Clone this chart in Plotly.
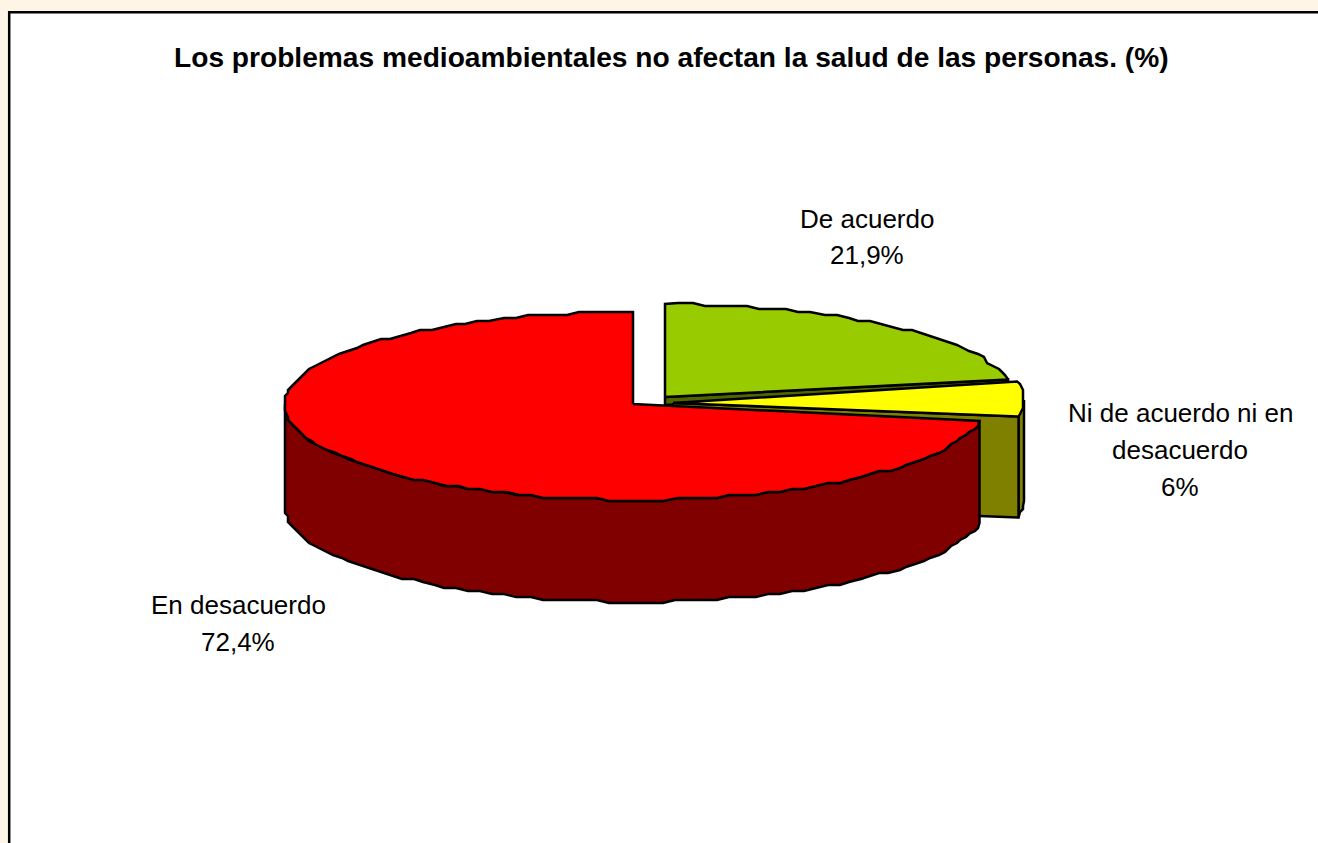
import numpy as np
import plotly.graph_objects as go

# --- data ---
categories = ["De acuerdo", "Ni de acuerdo ni en desacuerdo", "En desacuerdo"]
values = [21.9, 6, 72.4]
title = "Los problemas medioambientales no afectan la salud de las personas. (%)"

top_colors = ["#99CC00", "#FFFF00", "#FF0000"]
side_colors = ["#4D6600", "#808000", "#800000"]

label_lines = [
    ["De acuerdo", "21,9%"],
    ["Ni de acuerdo ni en", "desacuerdo", "6%"],
    ["En desacuerdo", "72,4%"],
]

# --- geometry of the projected pie (layout, not data) ---
W, H = 1318, 843
GRID_X, GRID_Y = 3.0, 3.0
LINE = 2.5
cfg = [
    dict(cx=665, cy=398, rxl=350, rxr=350, ryu=94, ryd=94, ax=665, ay=397, depth=8),
    dict(cx=674, cy=400, rxl=350, rxr=350, ryu=94, ryd=94, ax=673, ay=403, depth=101),
    dict(cx=633, cy=404, rxl=348, rxr=352, ryu=92, ryd=96, ax=633, ay=404, depth=102),
]
label_pos = [(867, [219, 255]), (1180, [413, 450, 487]), (238, [605, 642])]

total = sum(values)
edges = np.concatenate([[0], np.cumsum(values)]) / total * 360


def rim(c, t):
    s, k = np.sin(t), np.cos(t)
    x = c["cx"] + np.where(s > 0, c["rxr"], c["rxl"]) * s
    y = c["cy"] - np.where(k > 0, c["ryu"], c["ryd"]) * k
    return x, y


def arc(c, a0, a1, dy=0.0, step=2.2):
    """Rim points between clockwise-from-top angles; snapped to a coarse grid like the source raster."""
    n = max(2, int(abs(a1 - a0) / step) + 1)
    t = np.radians(np.linspace(a0, a1, n))
    x, y = rim(c, t)
    xs = np.round(x / GRID_X) * GRID_X
    ys = np.round(y / GRID_Y) * GRID_Y
    xs[0], ys[0], xs[-1], ys[-1] = x[0], y[0], x[-1], y[-1]
    return xs, ys + dy


def poly(fig, xs, ys, color):
    fig.add_trace(go.Scatter(
        x=list(xs) + [xs[0]], y=list(ys) + [ys[0]], mode="lines", fill="toself",
        fillcolor=color, line=dict(color="black", width=LINE),
        hoverinfo="skip", showlegend=False))


def wall(fig, c, a0, a1, color):
    x0, y0 = arc(c, a0, a1)
    x1, y1 = arc(c, a0, a1, c["depth"])
    poly(fig, np.r_[x0, x1[::-1]], np.r_[y0, y1[::-1]], color)


def radial(fig, c, angle, color):
    ex, ey = rim(c, np.radians(angle))
    d = c["depth"]
    poly(fig, [c["ax"], ex, ex, c["ax"]], [c["ay"], ey, ey + d, c["ay"] + d], color)


def top(fig, c, a0, a1, color):
    x, y = arc(c, a0, a1)
    poly(fig, np.r_[c["ax"], x], np.r_[c["ay"], y], color)


fig = go.Figure()
# back to front: green, yellow, red
radial(fig, cfg[0], edges[1], side_colors[0])
top(fig, cfg[0], edges[0], edges[1], top_colors[0])
wall(fig, cfg[1], 90, edges[2], side_colors[1])
radial(fig, cfg[1], edges[2], side_colors[1])
top(fig, cfg[1], edges[1], edges[2], top_colors[1])
wall(fig, cfg[2], edges[2], 270, side_colors[2])
top(fig, cfg[2], edges[2], 360, top_colors[2])

anns = [dict(x=671, y=57, xref="x", yref="y", text=f"<b>{title}</b>", showarrow=False,
             font=dict(family="Liberation Sans", size=28.15, color="black"))]
for (lx, ys), lines in zip(label_pos, label_lines):
    for ly, line in zip(ys, lines):
        anns.append(dict(x=lx, y=ly, xref="x", yref="y", text=line, showarrow=False,
                         font=dict(family="Liberation Sans", size=26, color="black")))

fig.update_layout(
    width=W, height=H, margin=dict(l=0, r=0, t=0, b=0),
    paper_bgcolor="#FFF5E6", plot_bgcolor="rgba(0,0,0,0)",
    xaxis=dict(range=[0, W], visible=False, fixedrange=True),
    yaxis=dict(range=[H, 0], visible=False, fixedrange=True),
    annotations=anns,
    shapes=[dict(type="rect", xref="x", yref="y", x0=9.2, y0=12.2, x1=W + 20, y1=H + 20,
                 fillcolor="white", line=dict(color="black", width=LINE), layer="below")],
)
fig.write_html("out.html", config={"displayModeBar": False},
               post_script="document.body.style.margin='0';document.body.style.overflow='hidden';")
